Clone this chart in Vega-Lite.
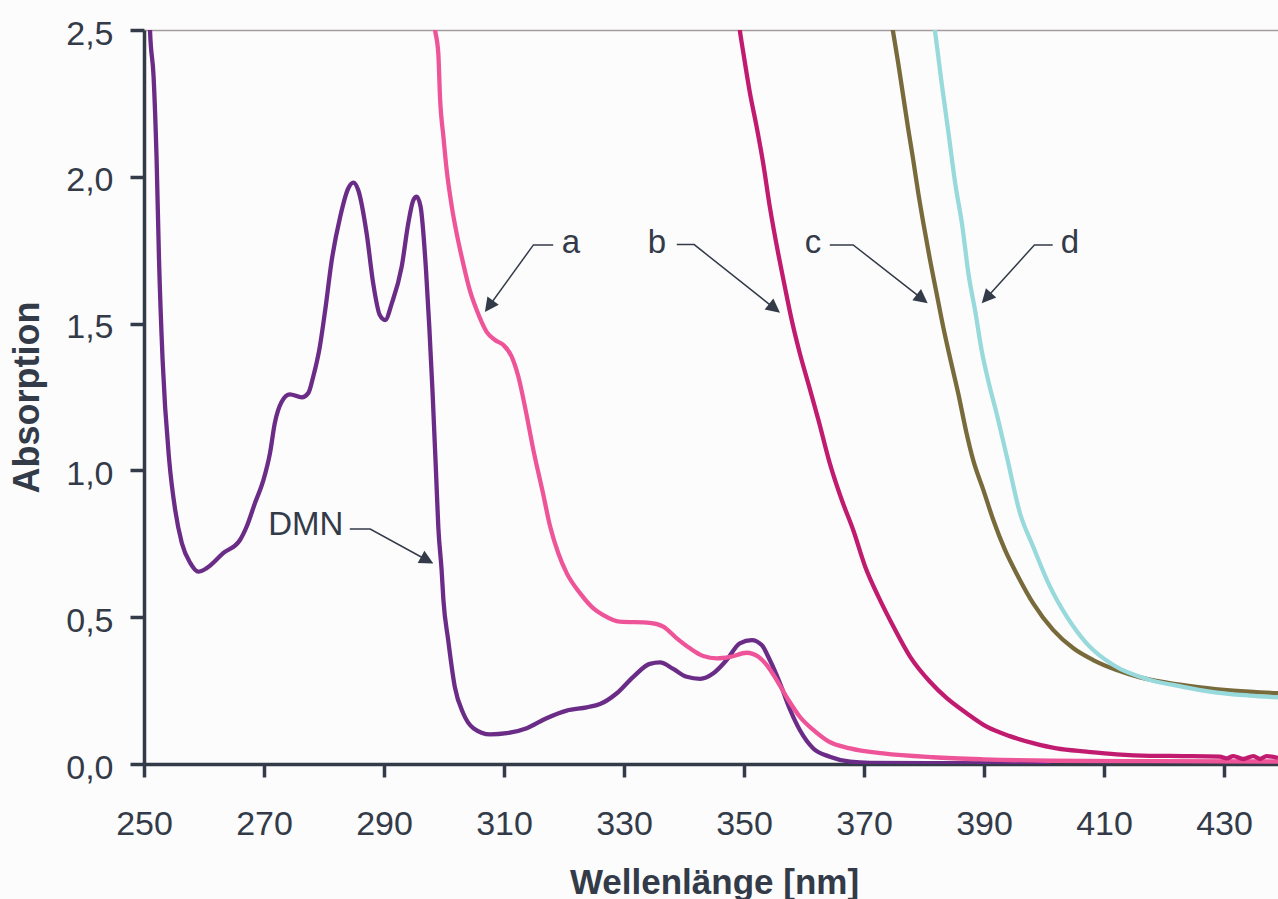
{
"$schema": "https://vega.github.io/schema/vega-lite/v6.json",
"width": 1134, "height": 734,
"autosize": {"type": "none"},
"padding": {"left": 144, "top": 30, "right": 0, "bottom": 135},
"background": "#fcfcfd",
"config": {"view": {"stroke": null}, "font": "Liberation Sans"},
"datasets": {
"spectra": [
{"series":"DMN","wl":250.9,"abs":2.6},{"series":"DMN","wl":251.0,"abs":2.5},{"series":"DMN","wl":251.6,"abs":2.34},{"series":"DMN","wl":252.1,"abs":2.06},{"series":"DMN","wl":252.5,"abs":1.72},{"series":"DMN","wl":253.1,"abs":1.376},{"series":"DMN","wl":254.2,"abs":1.035},{"series":"DMN","wl":255.2,"abs":0.865},{"series":"DMN","wl":256.3,"abs":0.753},{"series":"DMN","wl":257.7,"abs":0.685},{"series":"DMN","wl":259.05,"abs":0.655},{"series":"DMN","wl":260.45,"abs":0.667},{"series":"DMN","wl":263.2,"abs":0.718},{"series":"DMN","wl":266.0,"abs":0.763},{"series":"DMN","wl":267.1,"abs":0.808},{"series":"DMN","wl":268.5,"abs":0.889},{"series":"DMN","wl":269.9,"abs":0.967},{"series":"DMN","wl":271.0,"abs":1.059},{"series":"DMN","wl":271.8,"abs":1.161},{"series":"DMN","wl":272.95,"abs":1.234},{"series":"DMN","wl":274.3,"abs":1.259},{"series":"DMN","wl":276.3,"abs":1.249},{"series":"DMN","wl":277.4,"abs":1.264},{"series":"DMN","wl":278.2,"abs":1.319},{"series":"DMN","wl":279.3,"abs":1.421},{"series":"DMN","wl":280.2,"abs":1.546},{"series":"DMN","wl":281.3,"abs":1.717},{"series":"DMN","wl":282.7,"abs":1.864},{"series":"DMN","wl":284.05,"abs":1.961},{"series":"DMN","wl":284.9,"abs":1.98},{"series":"DMN","wl":285.7,"abs":1.955},{"series":"DMN","wl":287.1,"abs":1.808},{"series":"DMN","wl":288.2,"abs":1.637},{"series":"DMN","wl":289.3,"abs":1.529},{"series":"DMN","wl":290.2,"abs":1.512},{"series":"DMN","wl":291.3,"abs":1.569},{"series":"DMN","wl":292.95,"abs":1.694},{"series":"DMN","wl":294.05,"abs":1.842},{"series":"DMN","wl":294.9,"abs":1.921},{"series":"DMN","wl":295.45,"abs":1.932},{"series":"DMN","wl":296.1,"abs":1.898},{"series":"DMN","wl":297.0,"abs":1.683},{"series":"DMN","wl":297.55,"abs":1.489},{"series":"DMN","wl":298.1,"abs":1.263},{"series":"DMN","wl":298.7,"abs":0.979},{"series":"DMN","wl":299.05,"abs":0.808},{"series":"DMN","wl":299.6,"abs":0.661},{"series":"DMN","wl":299.9,"abs":0.559},{"series":"DMN","wl":300.7,"abs":0.422},{"series":"DMN","wl":301.8,"abs":0.263},{"series":"DMN","wl":303.2,"abs":0.173},{"series":"DMN","wl":304.9,"abs":0.122},{"series":"DMN","wl":307.7,"abs":0.101},{"series":"DMN","wl":310.45,"abs":0.105},{"series":"DMN","wl":313.8,"abs":0.122},{"series":"DMN","wl":317.1,"abs":0.156},{"series":"DMN","wl":320.45,"abs":0.182},{"series":"DMN","wl":323.8,"abs":0.193},{"series":"DMN","wl":326.0,"abs":0.204},{"series":"DMN","wl":328.8,"abs":0.241},{"series":"DMN","wl":331.55,"abs":0.297},{"series":"DMN","wl":334.3,"abs":0.341},{"series":"DMN","wl":336.0,"abs":0.346},{"series":"DMN","wl":338.2,"abs":0.324},{"series":"DMN","wl":340.45,"abs":0.297},{"series":"DMN","wl":342.7,"abs":0.29},{"series":"DMN","wl":344.9,"abs":0.309},{"series":"DMN","wl":347.1,"abs":0.354},{"series":"DMN","wl":349.3,"abs":0.411},{"series":"DMN","wl":351.3,"abs":0.422},{"series":"DMN","wl":352.95,"abs":0.405},{"series":"DMN","wl":354.3,"abs":0.354},{"series":"DMN","wl":356.0,"abs":0.275},{"series":"DMN","wl":357.7,"abs":0.184},{"series":"DMN","wl":359.3,"abs":0.116},{"series":"DMN","wl":361.55,"abs":0.053},{"series":"DMN","wl":364.3,"abs":0.025},{"series":"DMN","wl":367.7,"abs":0.008},{"series":"DMN","wl":371.0,"abs":0.004},{"series":"DMN","wl":385.0,"abs":0.003},{"series":"DMN","wl":401.0,"abs":0.002},
{"series":"a","wl":298.0,"abs":2.568},{"series":"a","wl":298.5,"abs":2.5},{"series":"a","wl":299.05,"abs":2.421},{"series":"a","wl":299.33,"abs":2.273},{"series":"a","wl":299.9,"abs":2.137},{"series":"a","wl":300.45,"abs":2.023},{"series":"a","wl":301.3,"abs":1.898},{"series":"a","wl":302.1,"abs":1.808},{"series":"a","wl":303.2,"abs":1.705},{"series":"a","wl":304.3,"abs":1.614},{"series":"a","wl":305.45,"abs":1.546},{"series":"a","wl":307.1,"abs":1.472},{"series":"a","wl":308.5,"abs":1.444},{"series":"a","wl":309.9,"abs":1.427},{"series":"a","wl":311.3,"abs":1.387},{"series":"a","wl":312.4,"abs":1.319},{"series":"a","wl":313.6,"abs":1.206},{"series":"a","wl":314.9,"abs":1.069},{"series":"a","wl":316.5,"abs":0.922},{"series":"a","wl":317.7,"abs":0.808},{"series":"a","wl":319.05,"abs":0.718},{"series":"a","wl":320.45,"abs":0.65},{"series":"a","wl":322.7,"abs":0.581},{"series":"a","wl":324.9,"abs":0.53},{"series":"a","wl":326.55,"abs":0.507},{"series":"a","wl":329.3,"abs":0.485},{"series":"a","wl":334.3,"abs":0.481},{"series":"a","wl":336.55,"abs":0.468},{"series":"a","wl":338.8,"abs":0.428},{"series":"a","wl":341.0,"abs":0.394},{"series":"a","wl":343.2,"abs":0.368},{"series":"a","wl":345.45,"abs":0.36},{"series":"a","wl":347.7,"abs":0.365},{"series":"a","wl":350.45,"abs":0.379},{"series":"a","wl":352.4,"abs":0.365},{"series":"a","wl":353.8,"abs":0.337},{"series":"a","wl":355.45,"abs":0.286},{"series":"a","wl":357.4,"abs":0.218},{"series":"a","wl":359.3,"abs":0.161},{"series":"a","wl":361.55,"abs":0.116},{"series":"a","wl":364.0,"abs":0.078},{"series":"a","wl":367.7,"abs":0.053},{"series":"a","wl":373.2,"abs":0.036},{"series":"a","wl":381.55,"abs":0.023},{"series":"a","wl":389.9,"abs":0.016},{"series":"a","wl":401.0,"abs":0.011},{"series":"a","wl":417.7,"abs":0.0095},{"series":"a","wl":439.0,"abs":0.0085},
{"series":"b","wl":348.9,"abs":2.568},{"series":"b","wl":349.3,"abs":2.5},{"series":"b","wl":349.9,"abs":2.421},{"series":"b","wl":351.0,"abs":2.284},{"series":"b","wl":352.1,"abs":2.171},{"series":"b","wl":353.2,"abs":2.046},{"series":"b","wl":354.3,"abs":1.898},{"series":"b","wl":355.7,"abs":1.739},{"series":"b","wl":356.8,"abs":1.626},{"series":"b","wl":357.95,"abs":1.512},{"series":"b","wl":359.3,"abs":1.399},{"series":"b","wl":360.7,"abs":1.297},{"series":"b","wl":362.4,"abs":1.172},{"series":"b","wl":364.3,"abs":1.024},{"series":"b","wl":366.3,"abs":0.899},{"series":"b","wl":368.2,"abs":0.797},{"series":"b","wl":370.2,"abs":0.672},{"series":"b","wl":372.4,"abs":0.57},{"series":"b","wl":374.9,"abs":0.468},{"series":"b","wl":377.7,"abs":0.365},{"series":"b","wl":381.0,"abs":0.28},{"series":"b","wl":383.8,"abs":0.224},{"series":"b","wl":387.1,"abs":0.173},{"series":"b","wl":390.45,"abs":0.127},{"series":"b","wl":394.3,"abs":0.095},{"series":"b","wl":398.2,"abs":0.071},{"series":"b","wl":402.1,"abs":0.053},{"series":"b","wl":407.1,"abs":0.042},{"series":"b","wl":412.1,"abs":0.033},{"series":"b","wl":417.7,"abs":0.028},{"series":"b","wl":423.2,"abs":0.027},{"series":"b","wl":429.3,"abs":0.025},{"series":"b","wl":430.45,"abs":0.019},{"series":"b","wl":431.55,"abs":0.027},{"series":"b","wl":433.2,"abs":0.017},{"series":"b","wl":434.9,"abs":0.027},{"series":"b","wl":436.0,"abs":0.017},{"series":"b","wl":437.1,"abs":0.027},{"series":"b","wl":439.0,"abs":0.021},
{"series":"c","wl":374.2,"abs":2.568},{"series":"c","wl":374.8,"abs":2.5},{"series":"c","wl":375.7,"abs":2.387},{"series":"c","wl":376.55,"abs":2.273},{"series":"c","wl":377.4,"abs":2.159},{"series":"c","wl":378.2,"abs":2.058},{"series":"c","wl":379.05,"abs":1.944},{"series":"c","wl":380.0,"abs":1.83},{"series":"c","wl":381.0,"abs":1.717},{"series":"c","wl":382.1,"abs":1.603},{"series":"c","wl":383.2,"abs":1.489},{"series":"c","wl":384.3,"abs":1.387},{"series":"c","wl":385.7,"abs":1.263},{"series":"c","wl":387.1,"abs":1.126},{"series":"c","wl":388.2,"abs":1.035},{"series":"c","wl":389.9,"abs":0.933},{"series":"c","wl":391.55,"abs":0.831},{"series":"c","wl":393.5,"abs":0.729},{"series":"c","wl":395.7,"abs":0.638},{"series":"c","wl":398.2,"abs":0.547},{"series":"c","wl":401.55,"abs":0.456},{"series":"c","wl":404.9,"abs":0.394},{"series":"c","wl":408.2,"abs":0.354},{"series":"c","wl":412.1,"abs":0.32},{"series":"c","wl":416.0,"abs":0.295},{"series":"c","wl":420.45,"abs":0.277},{"series":"c","wl":426.0,"abs":0.261},{"series":"c","wl":431.55,"abs":0.25},{"series":"c","wl":439.0,"abs":0.241},
{"series":"d","wl":381.3,"abs":2.568},{"series":"d","wl":381.8,"abs":2.5},{"series":"d","wl":382.95,"abs":2.318},{"series":"d","wl":384.05,"abs":2.154},{"series":"d","wl":385.2,"abs":1.978},{"series":"d","wl":386.4,"abs":1.83},{"series":"d","wl":387.4,"abs":1.671},{"series":"d","wl":388.6,"abs":1.535},{"series":"d","wl":389.6,"abs":1.41},{"series":"d","wl":390.8,"abs":1.298},{"series":"d","wl":392.1,"abs":1.194},{"series":"d","wl":393.8,"abs":1.047},{"series":"d","wl":396.0,"abs":0.854},{"series":"d","wl":398.2,"abs":0.74},{"series":"d","wl":401.0,"abs":0.604},{"series":"d","wl":403.8,"abs":0.502},{"series":"d","wl":407.1,"abs":0.411},{"series":"d","wl":411.55,"abs":0.337},{"series":"d","wl":417.7,"abs":0.286},{"series":"d","wl":423.2,"abs":0.263},{"series":"d","wl":428.8,"abs":0.243},{"series":"d","wl":434.3,"abs":0.233},{"series":"d","wl":439.0,"abs":0.227}
],
"labels": [
{"label":"DMN","wl":276.97,"abs":0.78},
{"label":"a","wl":321.17,"abs":1.74},
{"label":"b","wl":335.5,"abs":1.74},
{"label":"c","wl":361.5,"abs":1.74},
{"label":"d","wl":404.33,"abs":1.74}
],
"leaders": [
{"label":"DMN","k":1,"wl":284.3,"abs":0.8},{"label":"DMN","k":2,"wl":287.7,"abs":0.8},{"label":"DMN","k":3,"wl":297.2,"abs":0.694},
{"label":"a","k":1,"wl":318.2,"abs":1.768},{"label":"a","k":2,"wl":314.9,"abs":1.768},{"label":"a","k":3,"wl":307.5,"abs":1.559},
{"label":"b","k":1,"wl":338.8,"abs":1.769},{"label":"b","k":2,"wl":341.7,"abs":1.769},{"label":"b","k":3,"wl":355.08,"abs":1.552},
{"label":"c","k":1,"wl":364.3,"abs":1.768},{"label":"c","k":2,"wl":368.2,"abs":1.768},{"label":"c","k":3,"wl":379.7,"abs":1.584},
{"label":"d","k":1,"wl":401.45,"abs":1.768},{"label":"d","k":2,"wl":398.4,"abs":1.768},{"label":"d","k":3,"wl":390.4,"abs":1.587}
],
"arrows": [
{"label":"DMN","wl":297.2,"abs":0.694},
{"label":"a","wl":307.5,"abs":1.559},
{"label":"b","wl":355.08,"abs":1.552},
{"label":"c","wl":379.7,"abs":1.584},
{"label":"d","wl":390.4,"abs":1.587}
]
},
"encoding": {
  "x": {"field": "wl", "type": "quantitative",
        "scale": {"domain": [250, 439], "nice": false, "zero": false},
        "axis": {"values": [250,270,290,310,330,350,370,390,410,430], "title": "Wellenlänge [nm]", "grid": false,
                 "domainColor": "#333a48", "domainWidth": 3.5, "tickColor": "#333a48", "tickWidth": 3.5, "tickSize": 13,
                 "labelFont": "Liberation Sans", "labelFontSize": 34, "labelColor": "#333a48", "labelPadding": 30,
                 "labelFlush": false, "labelOverlap": false,
                 "titleFont": "Liberation Sans", "titleFontSize": 35, "titleFontWeight": "bold", "titleColor": "#333a48",
                 "titleX": 570, "titleY": 129, "titleBaseline": "alphabetic", "titleAlign": "center", "titleAnchor": "start"}},
  "y": {"field": "abs", "type": "quantitative",
        "scale": {"domain": [0, 2.5], "nice": false, "zero": false},
        "axis": {"values": [0,0.5,1,1.5,2,2.5], "labelExpr": "replace(format(datum.value, '.1f'), '.', ',')", "title": "Absorption",
                 "grid": true, "gridColor": "#a49c9c", "gridWidth": 1.5,
                 "gridOpacity": {"condition": {"test": "datum.value >= 2.49", "value": 1}, "value": 0},
                 "domainColor": "#333a48", "domainWidth": 3.5, "tickColor": "#333a48", "tickWidth": 3.5, "tickSize": 14,
                 "labelFont": "Liberation Sans", "labelFontSize": 34, "labelColor": "#333a48", "labelPadding": 17, "labelOffset": 4,
                 "labelFlush": false, "labelOverlap": false,
                 "titleFont": "Liberation Sans", "titleFontSize": 36, "titleFontWeight": "bold", "titleColor": "#333a48",
                 "titleX": -106, "titleY": 367, "titleAngle": 270, "titleBaseline": "alphabetic", "titleAlign": "center", "titleAnchor": "start"}}
},
"layer": [
{"data": {"name": "spectra"},
 "mark": {"type": "line", "clip": true, "strokeWidth": 4.3, "strokeJoin": "round", "interpolate": "monotone"},
 "encoding": {
  "color": {"field": "series", "type": "nominal",
            "scale": {"domain": ["DMN","a","b","c","d"], "range": ["#6a2c87","#ee5599","#c01b6e","#786a3b","#98d9db"]},
            "legend": null}
 }},
{"data": {"name": "leaders"},
 "mark": {"type": "line", "color": "#333a48", "strokeWidth": 1.5},
 "encoding": {"detail": {"field": "label"}, "order": {"field": "k", "type": "quantitative"}}},
{"data": {"name": "labels"},
 "mark": {"type": "text", "font": "Liberation Sans", "fontSize": 33, "color": "#333a48", "align": "center", "baseline": "alphabetic"},
 "encoding": {"text": {"field": "label"}}},
{"data": {"name": "arrows"}, "transform": [{"filter": "datum.label === 'DMN'"}],
 "mark": {"type": "point", "shape": "M0,-1L1,1L-1,1Z", "size": 196, "filled": true, "color": "#333a48", "opacity": 1, "strokeWidth": 0, "angle": 118.6}},
{"data": {"name": "arrows"}, "transform": [{"filter": "datum.label === 'a'"}],
 "mark": {"type": "point", "shape": "M0,-1L1,1L-1,1Z", "size": 196, "filled": true, "color": "#333a48", "opacity": 1, "strokeWidth": 0, "angle": 215.8}},
{"data": {"name": "arrows"}, "transform": [{"filter": "datum.label === 'b'"}],
 "mark": {"type": "point", "shape": "M0,-1L1,1L-1,1Z", "size": 196, "filled": true, "color": "#333a48", "opacity": 1, "strokeWidth": 0, "angle": 128.4}},
{"data": {"name": "arrows"}, "transform": [{"filter": "datum.label === 'c'"}],
 "mark": {"type": "point", "shape": "M0,-1L1,1L-1,1Z", "size": 196, "filled": true, "color": "#333a48", "opacity": 1, "strokeWidth": 0, "angle": 128.1}},
{"data": {"name": "arrows"}, "transform": [{"filter": "datum.label === 'd'"}],
 "mark": {"type": "point", "shape": "M0,-1L1,1L-1,1Z", "size": 196, "filled": true, "color": "#333a48", "opacity": 1, "strokeWidth": 0, "angle": 222.1}}
]
}
